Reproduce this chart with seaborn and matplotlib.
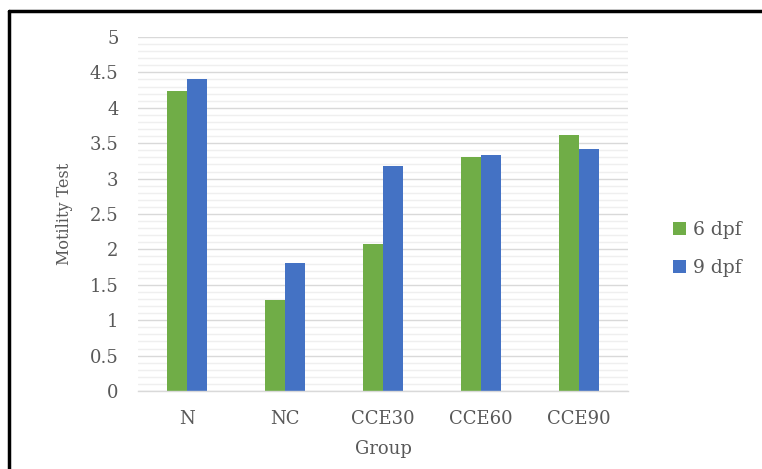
import matplotlib
matplotlib.use("Agg")
import matplotlib.pyplot as plt
from matplotlib.lines import Line2D
from matplotlib.patches import Patch
from matplotlib.ticker import MultipleLocator, FuncFormatter
import seaborn as sns
import pandas as pd

groups = ["N", "NC", "CCE30", "CCE60", "CCE90"]
dpf6 = [4.24, 1.29, 2.07, 3.31, 3.61]
dpf9 = [4.41, 1.81, 3.18, 3.34, 3.42]
series = ["6 dpf", "9 dpf"]
colors = ["#70ad47", "#4472c4"]

df = pd.DataFrame({
    "Group": groups * 2,
    "Motility Test": dpf6 + dpf9,
    "Series": [series[0]] * len(groups) + [series[1]] * len(groups),
})

sns.set_theme(style="white")
plt.rcParams["font.family"] = ["DejaVu Serif"]
text_color = "#595959"

fig = plt.figure(figsize=(7.62, 4.69), dpi=100)
ax = fig.add_axes([138 / 762, 1 - 391 / 469, 490 / 762, 354 / 469])

sns.barplot(data=df, x="Group", y="Motility Test", hue="Series",
            palette=colors, width=0.41, gap=0, ax=ax, legend=False,
            errorbar=None, saturation=1, linewidth=0)

ax.set_ylim(0, 5)
ax.set_xlim(-0.5, 4.5)
ax.yaxis.set_major_locator(MultipleLocator(0.5))
ax.yaxis.set_minor_locator(MultipleLocator(0.1))
ax.yaxis.set_major_formatter(FuncFormatter(lambda v, p: f"{v:g}"))
ax.grid(True, which="major", axis="y", color="#d9d9d9", linewidth=1.0)
ax.grid(True, which="minor", axis="y", color="#efefef", linewidth=1.0)
ax.set_axisbelow(True)
for s in ["top", "right", "left"]:
    ax.spines[s].set_visible(False)
ax.spines["bottom"].set_color("#d9d9d9")
ax.spines["bottom"].set_linewidth(1.0)
ax.tick_params(axis="both", which="both", length=0, colors=text_color, labelsize=13)
ax.tick_params(axis="y", pad=14)
ax.tick_params(axis="x", pad=14)

ax.set_xlabel("Group", fontsize=13, color=text_color, labelpad=8)
ax.set_ylabel("Motility Test", fontsize=11.5, color=text_color, labelpad=12)

handles = [Patch(facecolor=c, edgecolor="none") for c in colors]
fig.legend(handles, series, loc="center left", bbox_to_anchor=(656 / 762, 1 - 249 / 469),
           frameon=False, fontsize=13.5, labelcolor=text_color, handlelength=0.7,
           handleheight=0.7, handletextpad=0.35, labelspacing=1.05)

# outer frame
fig.add_artist(Line2D([9 / 762, 1.0], [1 - 11 / 469, 1 - 11 / 469],
                      transform=fig.transFigure, color="black", linewidth=2.5))
fig.add_artist(Line2D([9 / 762, 9 / 762], [0.0, 1 - 11 / 469],
                      transform=fig.transFigure, color="black", linewidth=2.5))

fig.savefig("out.png", dpi=100)
